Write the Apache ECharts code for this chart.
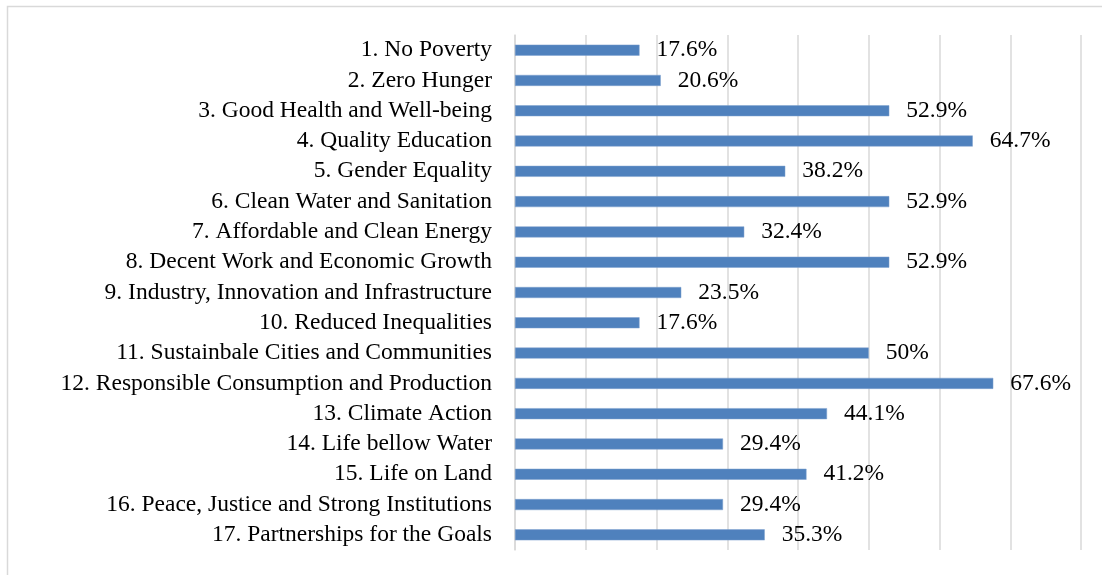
<!DOCTYPE html>
<html><head><meta charset="utf-8">
<script src="https://cdn.jsdelivr.net/npm/echarts@6/dist/echarts.min.js"></script>
<style>html,body{margin:0;padding:0;background:#fff}#c{width:1102px;height:575px}</style>
</head><body><div id="c"></div>
<script>
const categories = [
  "1. No Poverty",
  "2. Zero Hunger",
  "3. Good Health and Well-being",
  "4. Quality Education",
  "5. Gender Equality",
  "6. Clean Water and Sanitation",
  "7. Affordable and Clean Energy",
  "8. Decent Work and Economic Growth",
  "9. Industry, Innovation and Infrastructure",
  "10. Reduced Inequalities",
  "11. Sustainbale Cities and Communities",
  "12. Responsible Consumption and Production",
  "13. Climate Action",
  "14. Life bellow Water",
  "15. Life on Land",
  "16. Peace, Justice and Strong Institutions",
  "17. Partnerships for the Goals"
];
const values = [17.6, 20.6, 52.9, 64.7, 38.2, 52.9, 32.4, 52.9, 23.5, 17.6, 50, 67.6, 44.1, 29.4, 41.2, 29.4, 35.3];
const valueLabels = ["17.6%","20.6%","52.9%","64.7%","38.2%","52.9%","32.4%","52.9%","23.5%","17.6%","50%","67.6%","44.1%","29.4%","41.2%","29.4%","35.3%"];

const FONT = "'Liberation Serif', serif";
const chart = echarts.init(document.getElementById('c'), null, {renderer: 'canvas'});
chart.setOption({
  animation: false,
  backgroundColor: '#fff',
  graphic: [{
    type: 'rect', shape: {x: 7.5, y: 6.5, width: 1110, height: 600},
    style: {fill: 'none', stroke: '#d9d9d9', lineWidth: 1.5}, silent: true
  }],
  grid: {left: 515, right: 21, top: 35, bottom: 25, containLabel: false},
  xAxis: {
    type: 'value', min: 0, max: 80, interval: 10,
    axisLabel: {show: false}, axisLine: {show: false}, axisTick: {show: false},
    splitLine: {show: true, lineStyle: {color: '#d9d9d9', width: 1.5}}
  },
  yAxis: {
    type: 'category', inverse: true, data: categories,
    axisLine: {show: true, lineStyle: {color: '#d9d9d9', width: 1.5}},
    axisTick: {show: false},
    axisLabel: {color: '#000', fontFamily: FONT, fontSize: 23.5, margin: 23, interval: 0}
  },
  series: [{
    type: 'bar', data: values, barWidth: 11,
    itemStyle: {color: '#4f81bd', borderColor: '#7ea1cf', borderWidth: 0.5},
    label: {
      show: true, position: 'right', distance: 17, color: '#000',
      fontFamily: FONT, fontSize: 23.5,
      formatter: p => valueLabels[p.dataIndex]
    }
  }]
});
</script></body></html>
